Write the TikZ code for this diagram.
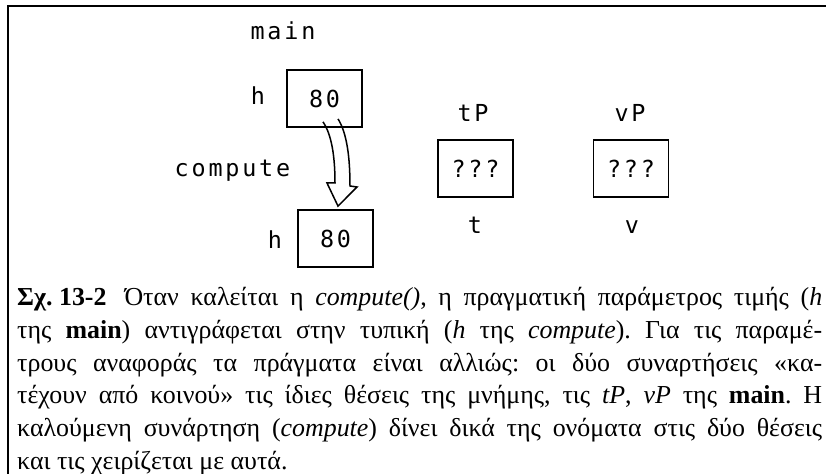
\documentclass[tikz,border=0pt]{standalone}
\usepackage{fontspec}
\usetikzlibrary{calc}
\setmainfont{Liberation Serif}
\newfontfamily\codefont[LetterSpace=12]{DejaVu Sans Mono}

\tikzset{
  cell/.style={draw, line width=1.8bp, minimum width=75bp, minimum height=57bp,
    inner sep=0pt, font=\codefont\fontsize{23.5}{23.5}\selectfont},
  tag/.style={inner sep=0pt, anchor=base, font=\codefont\fontsize{23.5}{23.5}\selectfont},
  capline/.style={inner sep=0pt, anchor=base west, font=\fontsize{26}{30}\selectfont},
  copyarrow/.style={line width=1.5bp, line join=miter},
}
\newcommand{\capw}[1]{\makebox[805bp][s]{#1}}

\begin{document}
\frenchspacing
\begin{tikzpicture}[x=1bp, y=-1bp]
  \useasboundingbox (0,0) rectangle (826,474);
  % frame: left and top rules
  \draw[line width=2bp] (8,474) -- (8,6) -- (826,6);

  % variables of main and of compute
  \node[tag] (mainlbl) at (283,40) {main};
  \node[cell] (hmain) at (324.5,98.5) {80};
  \node[tag] (hlbl1) at (258,105) {h};
  \node[tag] (complbl) at (232.5,177) {compute};
  \node[cell] (hcomp) at (335.5,238.5) {80};
  \node[tag] (hlbl2) at (275,249) {h};

  % reference parameters
  \node[tag] (tPlbl) at (473,122) {tP};
  \node[cell] (tbox) at (475.5,168.5) {???};
  \node[tag] (tlbl) at (475,234) {t};
  \node[tag] (vPlbl) at (630,122) {vP};
  \node[cell] (vbox) at (631,168.5) {???};
  \node[tag] (vlbl) at (632,234) {v};

  % hollow curved arrow: value copied from main's h to compute's h
  \coordinate (aL) at ($(hmain.south)+(-1.5,-6)$);
  \coordinate (aR) at ($(hmain.south)+(13.5,-9)$);
  \coordinate (tip) at ($(hcomp.north)+(2.5,-3)$);
  \draw[copyarrow] (aL) .. controls (332,135) and (335,158) .. (335,183)
    -- (327,183) -- (tip) -- (357,187) -- (350,186)
    .. controls (350,158) and (347,133) .. (aR);

  % caption
  \node[capline] (c1) at (17,306) {\capw{\mbox{\textbf{Σχ. 13-2}}\hspace{18bp}Όταν καλείται η \textit{compute()}, η πραγματική παράμετρος τιμής (\textit{h}}};
  \node[capline] (c2) at (17,338.6) {\capw{της \textbf{main}) αντιγράφεται στην τυπική (\textit{h} της \textit{compute}). Για τις παραμέ-}};
  \node[capline] (c3) at (17,371.2) {\capw{τρους αναφοράς τα πράγματα είναι αλλιώς: οι δύο συναρτήσεις «κα-}};
  \node[capline] (c4) at (17,403.8) {\capw{τέχουν από κοινού» τις ίδιες θέσεις της μνήμης, τις \textit{tP}, \textit{vP} της \textbf{main}. Η}};
  \node[capline] (c5) at (17,436.4) {\capw{καλούμενη συνάρτηση (\textit{compute}) δίνει δικά της ονόματα στις δύο θέσεις}};
  \node[capline] (c6) at (17,469) {και τις χειρίζεται με αυτά.};
\end{tikzpicture}
\end{document}
